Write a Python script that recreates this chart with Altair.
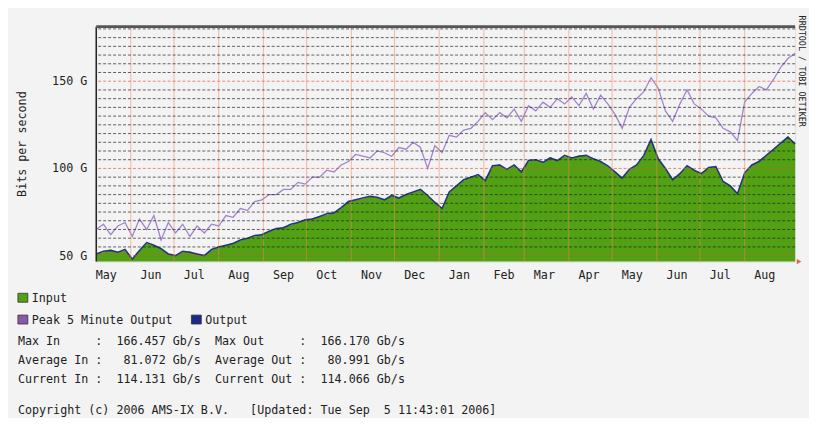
import altair as alt
import pandas as pd

# ---------------- data ----------------
start_date = "2005-05-08"      # first sample, one sample every 5 days
end_date = "2006-09-05"
sample_step = "5D"

input_gbps = [51, 52, 53.5, 52, 53, 48.5, 53, 57, 56, 54.5,
              51, 50, 52, 52.5, 51, 50.5, 53, 55, 56, 57.5,
              58.5, 60, 61, 62.5, 64, 65, 66.5, 67.5, 69, 70,
              71.5, 72.5, 73.5, 74.5, 77, 81.5, 82, 82.5, 84, 83,
              82.5, 84, 83.5, 85, 86, 88, 84, 81, 77.5, 86,
              90, 93, 95.5, 96, 93, 101, 102.5, 99, 102, 98.5,
              104, 105, 103, 106.5, 104.5, 107, 106, 107.5, 107, 106,
              104, 101, 98, 95, 99, 102, 107, 116, 106, 100,
              94, 97, 101, 99, 97.5, 100, 101, 93, 90, 86,
              97, 102, 104.5, 107, 111, 114, 118.5, 114]

output_gbps = [51, 52.5, 53, 52, 53.5, 48, 53, 57.5, 56, 54,
               51, 50, 52.5, 52, 51, 50, 53.5, 55, 56, 57,
               59, 60, 61.5, 62, 64, 65.5, 66, 68, 69, 70.5,
               71, 72.5, 74, 74.5, 77.5, 81, 82, 83, 84, 83.5,
               82, 84.5, 83, 85, 86.5, 88, 84.5, 80.5, 77, 86.5,
               90, 93.5, 95, 96.5, 93, 101.5, 102, 99.5, 102, 98,
               104.5, 105, 103.5, 106, 104.5, 107.5, 106, 107, 107.5, 105.5,
               104, 101.5, 98, 94.5, 99.5, 102, 107.5, 116.5, 105.5, 100,
               93.5, 97, 101.5, 99, 97, 100.5, 101, 92.5, 90, 85.5,
               97.5, 102, 104, 107.5, 111, 114.5, 118, 114]

peak_out_gbps = [65, 68, 62, 67, 69, 61, 71, 65, 73, 59,
                 69, 63, 68, 61, 67, 63, 68, 67, 73, 72,
                 77, 76, 81, 82, 85, 85, 88, 88, 92, 91,
                 95, 95, 99, 98, 102, 104, 108, 107, 106, 110,
                 109, 107, 112, 111, 115, 112, 100, 113, 109, 119,
                 118, 122, 123, 127, 132, 128, 132, 129, 134, 127,
                 136, 133, 138, 135, 140, 137, 141, 136, 143, 134,
                 142, 137, 131, 123, 135, 140, 144, 152, 146, 133,
                 127, 137, 145, 137, 134, 130, 129, 123, 121, 116,
                 138, 143, 147, 145, 151, 158, 163, 166]

month_starts = ["2005-06-01", "2005-07-01", "2005-08-01", "2005-09-01",
                "2005-10-01", "2005-11-01", "2005-12-01", "2006-01-01",
                "2006-02-01", "2006-03-01", "2006-04-01", "2006-05-01",
                "2006-06-01", "2006-07-01", "2006-08-01"]

month_label_dates = ["2005-05-15", "2005-06-15", "2005-07-15", "2005-08-15",
                     "2005-09-15", "2005-10-15", "2005-11-15", "2005-12-15",
                     "2006-01-15", "2006-02-15", "2006-03-15", "2006-04-15",
                     "2006-05-15", "2006-06-15", "2006-07-15", "2006-08-15"]
month_labels = ["May", "Jun", "Jul", "Aug", "Sep", "Oct", "Nov", "Dec",
                "Jan", "Feb", "Mar", "Apr", "May", "Jun", "Jul", "Aug"]

y_tick_values = [50, 100, 150]
y_tick_labels = ["50 G", "100 G", "150 G"]
major_grid = [50, 100, 150]
minor_grid = [55, 60, 65, 70, 75, 80, 85, 90, 95, 105, 110, 115, 120,
              125, 130, 135, 140, 145, 155, 160, 165, 170, 175, 180]

legend_input = "Input"
legend_peak = "Peak 5 Minute Output"
legend_output = "Output"
stats_lines = [
    "Max In     :  166.457 Gb/s  Max Out     :  166.170 Gb/s",
    "Average In :   81.072 Gb/s  Average Out :   80.991 Gb/s",
    "Current In :  114.131 Gb/s  Current Out :  114.066 Gb/s",
]
copyright_line = "Copyright (c) 2006 AMS-IX B.V.   [Updated: Tue Sep  5 11:43:01 2006]"
watermark = "RRDTOOL / TOBI OETIKER"
y_title = "Bits per second"

# ---------------- styling ----------------
FONT = "DejaVu Sans Mono"
FS = 11.8
TXT = "#222222"
GREEN = "#52a014"
BLUE = "#25357a"
PURPLE = "#a383cf"
W, H = 705, 237
Y_MIN, Y_MAX = 46.6, 181.3

dates = pd.date_range(start_date, periods=len(input_gbps), freq=sample_step)
df = pd.DataFrame({"date": dates, "input": input_gbps,
                   "output": output_gbps, "peak": peak_out_gbps})

xscale = alt.Scale(domain=[alt.DateTime(year=2005, month=5, date=8),
                           alt.DateTime(year=2006, month=9, date=5)])
yscale = alt.Scale(domain=[Y_MIN, Y_MAX], nice=False, zero=False)


def X(field):
    return alt.X(field, scale=xscale, axis=None)


def Y(field):
    return alt.Y(field, scale=yscale, axis=None)


base = alt.Chart(df)

area = base.mark_area(color=GREEN, opacity=1).encode(
    x=X("date:T"), y=Y("input:Q"), y2=alt.datum(Y_MIN))
peak = base.mark_line(color=PURPLE, strokeWidth=1.3).encode(
    x=X("date:T"), y=Y("peak:Q"))
out = base.mark_line(color=BLUE, strokeWidth=1.6).encode(
    x=X("date:T"), y=Y("output:Q"))

vgrid = alt.Chart(pd.DataFrame({"d": pd.to_datetime(month_starts)})).mark_rule(
    color="#f0885a", strokeWidth=1, opacity=0.55).encode(x=X("d:T"))
hminor = alt.Chart(pd.DataFrame({"v": minor_grid})).mark_rule(
    color="#222222", strokeWidth=1, strokeDash=[3, 2], opacity=0.7).encode(y=Y("v:Q"))
hmajor = alt.Chart(pd.DataFrame({"v": major_grid})).mark_rule(
    color="#e0503a", strokeWidth=1, strokeDash=[3, 2], opacity=0.65).encode(y=Y("v:Q"))

left_edge = alt.Chart(pd.DataFrame({"d": [pd.Timestamp(start_date)]})).mark_rule(
    color="#222222", strokeWidth=1.5).encode(x=X("d:T"))
top_edge = alt.Chart(pd.DataFrame({"v": [Y_MAX]})).mark_rule(
    color="#555555", strokeWidth=3).encode(y=Y("v:Q"))

arrow = alt.Chart(pd.DataFrame({"d": [pd.Timestamp(end_date)], "v": [Y_MIN]})).mark_point(
    shape="triangle-right", filled=True, size=28, color="#d8402a", opacity=0.8,
    xOffset=4).encode(x=X("d:T"), y=Y("v:Q"))

# axis labels drawn through the scales
xlab = alt.Chart(pd.DataFrame({"d": pd.to_datetime(month_label_dates),
                               "t": month_labels})).mark_text(
    font=FONT, fontSize=FS, color=TXT, align="center", baseline="middle").encode(
    x=X("d:T"), y=alt.value(H + 14), text="t:N")
ylab = alt.Chart(pd.DataFrame({"v": y_tick_values, "t": y_tick_labels})).mark_text(
    font=FONT, fontSize=FS, color=TXT, align="right", baseline="middle").encode(
    y=Y("v:Q"), x=alt.value(-9), text="t:N")


def nb(s):
    return s.replace(" ", "\u00a0")


def txt(s, x, y, size=FS, angle=0, align="left"):
    return alt.Chart(pd.DataFrame({"t": [nb(s)]})).mark_text(
        font=FONT, fontSize=size, color=TXT, align=align, baseline="middle",
        angle=angle).encode(text="t:N", x=alt.value(x), y=alt.value(y))


def swatch(color, x, y):
    return alt.Chart(pd.DataFrame({"c": [color]})).mark_rect(
        color=color, stroke="#333333", strokeWidth=0.8).encode(
        x=alt.value(x), x2=alt.value(x + 10), y=alt.value(y - 5), y2=alt.value(y + 4))


LX = 18 - 97  # page x 18 in view coordinates
rows_y = [274, 296, 317, 336, 355]
texts = [
    txt(y_title, -75, H / 2, angle=270, align="center"),
    swatch(GREEN, LX, rows_y[0]), txt(legend_input, LX + 14, rows_y[0]),
    swatch("#8a5aa8", LX, rows_y[1]), txt(legend_peak, LX + 14, rows_y[1]),
    swatch("#1a2a8a", 96, rows_y[1]), txt(legend_output, 110, rows_y[1]),
    txt(stats_lines[0], LX, rows_y[2]),
    txt(stats_lines[1], LX, rows_y[3]),
    txt(stats_lines[2], LX, rows_y[4]),
    txt(copyright_line, LX, 387),
    txt(watermark, W + 7, 45, size=8.5, angle=90, align="center"),
]

chart = alt.layer(area, peak, out, vgrid, hminor, hmajor, left_edge, top_edge,
                  arrow, xlab, ylab, *texts).properties(
    width=W, height=H,
    padding={"left": 89, "top": 17, "right": 14, "bottom": 156},
    autosize=alt.AutoSizeParams(type="none"),
).configure_view(stroke="#555555", strokeWidth=1.5, fill="white"
).configure(background="#f3f3f3")

chart.save("out.html", embed_options={"renderer": "svg", "actions": False})
